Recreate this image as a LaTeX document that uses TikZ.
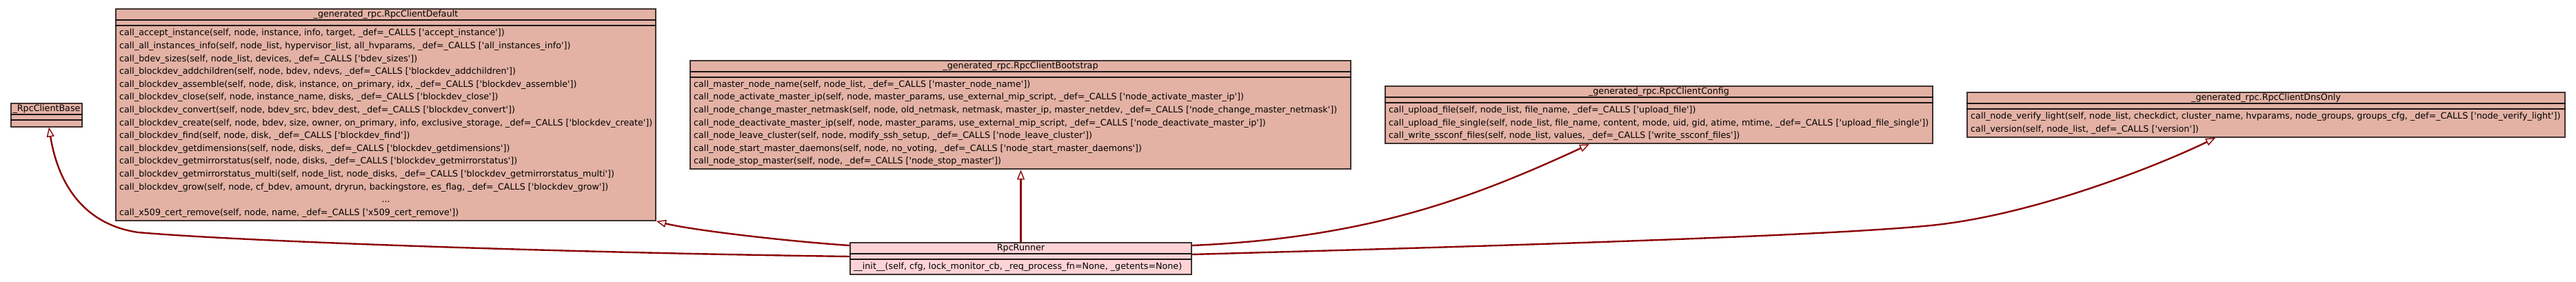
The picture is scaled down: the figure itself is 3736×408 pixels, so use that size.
\documentclass[tikz,border=0pt]{standalone}
\usepackage{fontspec}
\usetikzlibrary{arrows.meta}
\newfontfamily\df{DejaVu Sans}
\definecolor{clsfill}{HTML}{E3B2A5}
\definecolor{runfill}{HTML}{FDD3D6}
\definecolor{clsline}{HTML}{3E322F}
\definecolor{sepcol}{HTML}{1A1414}
\definecolor{edgered}{HTML}{8B0000}
\newlength\reflen
\def\fsz{10}
\newcommand\methfont{\df\fontsize{\fsz pt}{18.6pt}\selectfont}
\newcommand\sqt{\textquotesingle}
\AtBeginDocument{%
  \settowidth\reflen{\methfont call\_blockdev\_create(self, node, bdev, size, owner, on\_primary, info, exclusive\_storage, \_def=\_CALLS [\sqt blockdev\_create\sqt])}%
  \pgfmathsetmacro\fsz{10*773/\reflen}%
}
\tikzset{
  classbox/.style={draw=clsline, line width=2pt, inner sep=0pt, anchor=north west},
  sepline/.style={draw=sepcol, line width=2pt},
  txt/.style={font=\methfont, inner sep=0pt, text=black},
  inherit/.style={draw=edgered, line width=2.4pt, -{Triangle[length=14pt,width=11pt,fill=white,line width=1.4pt]}},
}
% #1 name, #2 left, #3 top, #4 width, #5 height, #6 fill, #7 title, #8 method rows
\newcommand{\umlbox}[8]{%
  \node[classbox, fill=#6, minimum width=#4pt, minimum height=#5pt] (#1) at (#2,#3) {};
  \draw[sepline] ([yshift=-17.3pt]#1.north west) -- ([yshift=-17.3pt]#1.north east);
  \draw[sepline] ([yshift=-25.3pt]#1.north west) -- ([yshift=-25.3pt]#1.north east);
  \node[txt, anchor=base] (#1-t) at ([yshift=-12.8pt]#1.north) {#7};
  \node[txt, anchor=north west] (#1-m) at ([xshift=6pt,yshift=-26.5pt]#1.north west)
    {\begin{tabular}{@{}l@{}}#8\end{tabular}};
}
\begin{document}
\begin{tikzpicture}[x=1pt, y=-1pt]
\fill[white] (0,0) rectangle (3736,408);
\useasboundingbox (0,0) rectangle (3736,408);

% _RpcClientBase
\node[classbox, fill=clsfill, minimum width=103pt, minimum height=34pt] (base) at (15,148.5) {};
\draw[sepline] ([yshift=-17.3pt]base.north west) -- ([yshift=-17.3pt]base.north east);
\draw[sepline] ([yshift=-25.3pt]base.north west) -- ([yshift=-25.3pt]base.north east);
\node[txt, anchor=base] (base-t) at ([yshift=-12.8pt]base.north) {\_RpcClientBase};

\umlbox{dflt}{167}{12.15}{783}{306.7}{clsfill}{\_generated\_rpc.RpcClientDefault}{%
call\_accept\_instance(self, node, instance, info, target, \_def=\_CALLS [\sqt accept\_instance\sqt])\\
call\_all\_instances\_info(self, node\_list, hypervisor\_list, all\_hvparams, \_def=\_CALLS [\sqt all\_instances\_info\sqt])\\
call\_bdev\_sizes(self, node\_list, devices, \_def=\_CALLS [\sqt bdev\_sizes\sqt])\\
call\_blockdev\_addchildren(self, node, bdev, ndevs, \_def=\_CALLS [\sqt blockdev\_addchildren\sqt])\\
call\_blockdev\_assemble(self, node, disk, instance, on\_primary, idx, \_def=\_CALLS [\sqt blockdev\_assemble\sqt])\\
call\_blockdev\_close(self, node, instance\_name, disks, \_def=\_CALLS [\sqt blockdev\_close\sqt])\\
call\_blockdev\_convert(self, node, bdev\_src, bdev\_dest, \_def=\_CALLS [\sqt blockdev\_convert\sqt])\\
call\_blockdev\_create(self, node, bdev, size, owner, on\_primary, info, exclusive\_storage, \_def=\_CALLS [\sqt blockdev\_create\sqt])\\
call\_blockdev\_find(self, node, disk, \_def=\_CALLS [\sqt blockdev\_find\sqt])\\
call\_blockdev\_getdimensions(self, node, disks, \_def=\_CALLS [\sqt blockdev\_getdimensions\sqt])\\
call\_blockdev\_getmirrorstatus(self, node, disks, \_def=\_CALLS [\sqt blockdev\_getmirrorstatus\sqt])\\
call\_blockdev\_getmirrorstatus\_multi(self, node\_list, node\_disks, \_def=\_CALLS [\sqt blockdev\_getmirrorstatus\_multi\sqt])\\
call\_blockdev\_grow(self, node, cf\_bdev, amount, dryrun, backingstore, es\_flag, \_def=\_CALLS [\sqt blockdev\_grow\sqt])\\
\multicolumn{1}{@{}c@{}}{...}\\
call\_x509\_cert\_remove(self, node, name, \_def=\_CALLS [\sqt x509\_cert\_remove\sqt])}

\umlbox{boot}{1000}{86.55}{958}{157.9}{clsfill}{\_generated\_rpc.RpcClientBootstrap}{%
call\_master\_node\_name(self, node\_list, \_def=\_CALLS [\sqt master\_node\_name\sqt])\\
call\_node\_activate\_master\_ip(self, node, master\_params, use\_external\_mip\_script, \_def=\_CALLS [\sqt node\_activate\_master\_ip\sqt])\\
call\_node\_change\_master\_netmask(self, node, old\_netmask, netmask, master\_ip, master\_netdev, \_def=\_CALLS [\sqt node\_change\_master\_netmask\sqt])\\
call\_node\_deactivate\_master\_ip(self, node, master\_params, use\_external\_mip\_script, \_def=\_CALLS [\sqt node\_deactivate\_master\_ip\sqt])\\
call\_node\_leave\_cluster(self, node, modify\_ssh\_setup, \_def=\_CALLS [\sqt node\_leave\_cluster\sqt])\\
call\_node\_start\_master\_daemons(self, node, no\_voting, \_def=\_CALLS [\sqt node\_start\_master\_daemons\sqt])\\
call\_node\_stop\_master(self, node, \_def=\_CALLS [\sqt node\_stop\_master\sqt])}

\umlbox{conf}{2008}{123.75}{794}{83.5}{clsfill}{\_generated\_rpc.RpcClientConfig}{%
call\_upload\_file(self, node\_list, file\_name, \_def=\_CALLS [\sqt upload\_file\sqt])\\
call\_upload\_file\_single(self, node\_list, file\_name, content, mode, uid, gid, atime, mtime, \_def=\_CALLS [\sqt upload\_file\_single\sqt])\\
call\_write\_ssconf\_files(self, node\_list, values, \_def=\_CALLS [\sqt write\_ssconf\_files\sqt])}

\umlbox{dns}{2852}{133.05}{867}{64.9}{clsfill}{\_generated\_rpc.RpcClientDnsOnly}{%
call\_node\_verify\_light(self, node\_list, checkdict, cluster\_name, hvparams, node\_groups, groups\_cfg, \_def=\_CALLS [\sqt node\_verify\_light\sqt])\\
call\_version(self, node\_list, \_def=\_CALLS [\sqt version\sqt])}

\umlbox{run}{1232}{351}{495}{46.3}{runfill}{RpcRunner}{%
\_\_init\_\_(self, cfg, lock\_monitor\_cb, \_req\_process\_fn=None, \_getents=None)}

% inheritance connectors
\draw[inherit] ([yshift=-21pt]run.north west) .. controls (800,366) and (350,350) .. (200,337)
  .. controls (120,325) and (84,265) .. ([xshift=3.5pt]base.south);
\draw[inherit] ([yshift=-5pt]run.north west) .. controls (1130,349) and (1000,333) .. (dflt.south east);
\draw[inherit] (run.north) -- (run.north |- boot.south);
\draw[inherit] ([yshift=-5pt]run.north east) .. controls (1980,345) and (2130,290) .. ([xshift=-101pt]conf.south);
\draw[inherit] ([yshift=-18pt]run.north east) .. controls (2200,356) and (2650,342) .. (2800,327)
  .. controls (2950,312) and (3130,240) .. ([xshift=-73.5pt]dns.south);
\end{tikzpicture}
\end{document}
